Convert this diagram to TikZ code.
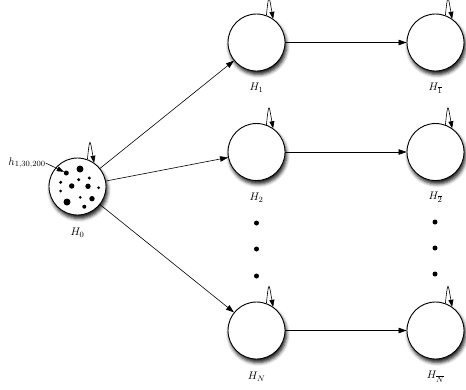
\documentclass[tikz,border=0pt]{standalone}
\usetikzlibrary{arrows.meta,shadows.blur}
\begin{document}
\begin{tikzpicture}[x=1pt,y=-1pt,
  state/.style={circle,draw,line width=0.9pt,fill=white,minimum size=57pt,inner sep=0pt,
    blur shadow={shadow xshift=1.5pt,shadow yshift=-3.5pt,shadow blur radius=3.5pt,shadow opacity=90}},
  arr/.style={-{Stealth[length=8pt,width=5.5pt,inset=0pt]},line width=0.6pt},
  larr/.style={-{Stealth[length=7pt,width=5pt,inset=0pt]},line width=0.6pt},
  lbl/.style={inner sep=0pt,font=\fontsize{11}{13}\selectfont},
  dot/.style={circle,fill=black,inner sep=0pt,minimum size=#1},
  vdot/.style={circle,fill=black,inner sep=0pt,minimum size=5pt}]
\useasboundingbox (0,0) rectangle (466,389);
\clip (0,0) rectangle (466,389);
% nodes
\node[state] (h0) at (77.5,186.5) {};
\node[state] (h1) at (256.5,42.5) {};
\node[state] (h2) at (256.5,152) {};
\node[state] (hn) at (256.5,330.5) {};
\node[state] (b1) at (435.5,42.5) {};
\node[state] (b2) at (435.5,152) {};
\node[state] (bn) at (435.5,330.5) {};
% labels
\node[lbl] (l0) at (77.5,233) {$H_0$};
\node[lbl] (l1) at (256.5,88) {$H_1$};
\node[lbl] (l2) at (256.5,197.5) {$H_2$};
\node[lbl] (ln) at (256.5,377) {$H_N$};
\node[lbl] (lb1) at (435.5,88) {$H_{\overline{1}}$};
\node[lbl] (lb2) at (435.5,197.5) {$H_{\overline{2}}$};
\node[lbl] (lbn) at (435.5,377) {$H_{\overline{N}}$};
% particles in H0
\node[dot=5pt] (p1) at (66.3,173) {};
\node[dot=7pt] (p2) at (80,169) {};
\node[dot=3.4pt] (p3) at (60.7,182.3) {};
\node[dot=5.4pt] (p4) at (71.7,186) {};
\node[dot=3.4pt] (p5) at (78.7,179.7) {};
\node[dot=3.4pt] (p6) at (89.3,178) {};
\node[dot=5.4pt] (p7) at (88,186.3) {};
\node[dot=3pt] (p8) at (98.7,187.7) {};
\node[dot=3pt] (p9) at (60.7,191) {};
\node[dot=3pt] (p10) at (80.3,197.3) {};
\node[dot=5.4pt] (p11) at (92,198.7) {};
\node[dot=7pt] (p12) at (67,202) {};
\node[dot=4pt] (p13) at (84.3,206.7) {};
% h label
\node[lbl] (hl) at (27,163) {$h_{1,30,200}$};
\draw[larr] (hl.east) -- (p1);
% vertical dots
\node[vdot] (d1) at (256.5,223) {};
\node[vdot] (d2) at (256.5,249) {};
\node[vdot] (d3) at (256.5,276) {};
\node[vdot] (e1) at (435,222) {};
\node[vdot] (e2) at (435,248) {};
\node[vdot] (e3) at (435,274) {};
% connectors
\draw[arr] (h0) -- (h1);
\draw[arr] (h0) -- (h2);
\draw[arr] (h0) -- (hn);
\draw[arr] (h1) -- (b1);
\draw[arr] (h2) -- (b2);
\draw[arr] (hn) -- (bn);
% self loops
\foreach \n in {h0,h1,h2,hn,b1,b2,bn}{
  \draw[larr] (\n.70) .. controls +(-84:24) and +(-100:24) .. (\n.55);
}
\end{tikzpicture}
\end{document}
